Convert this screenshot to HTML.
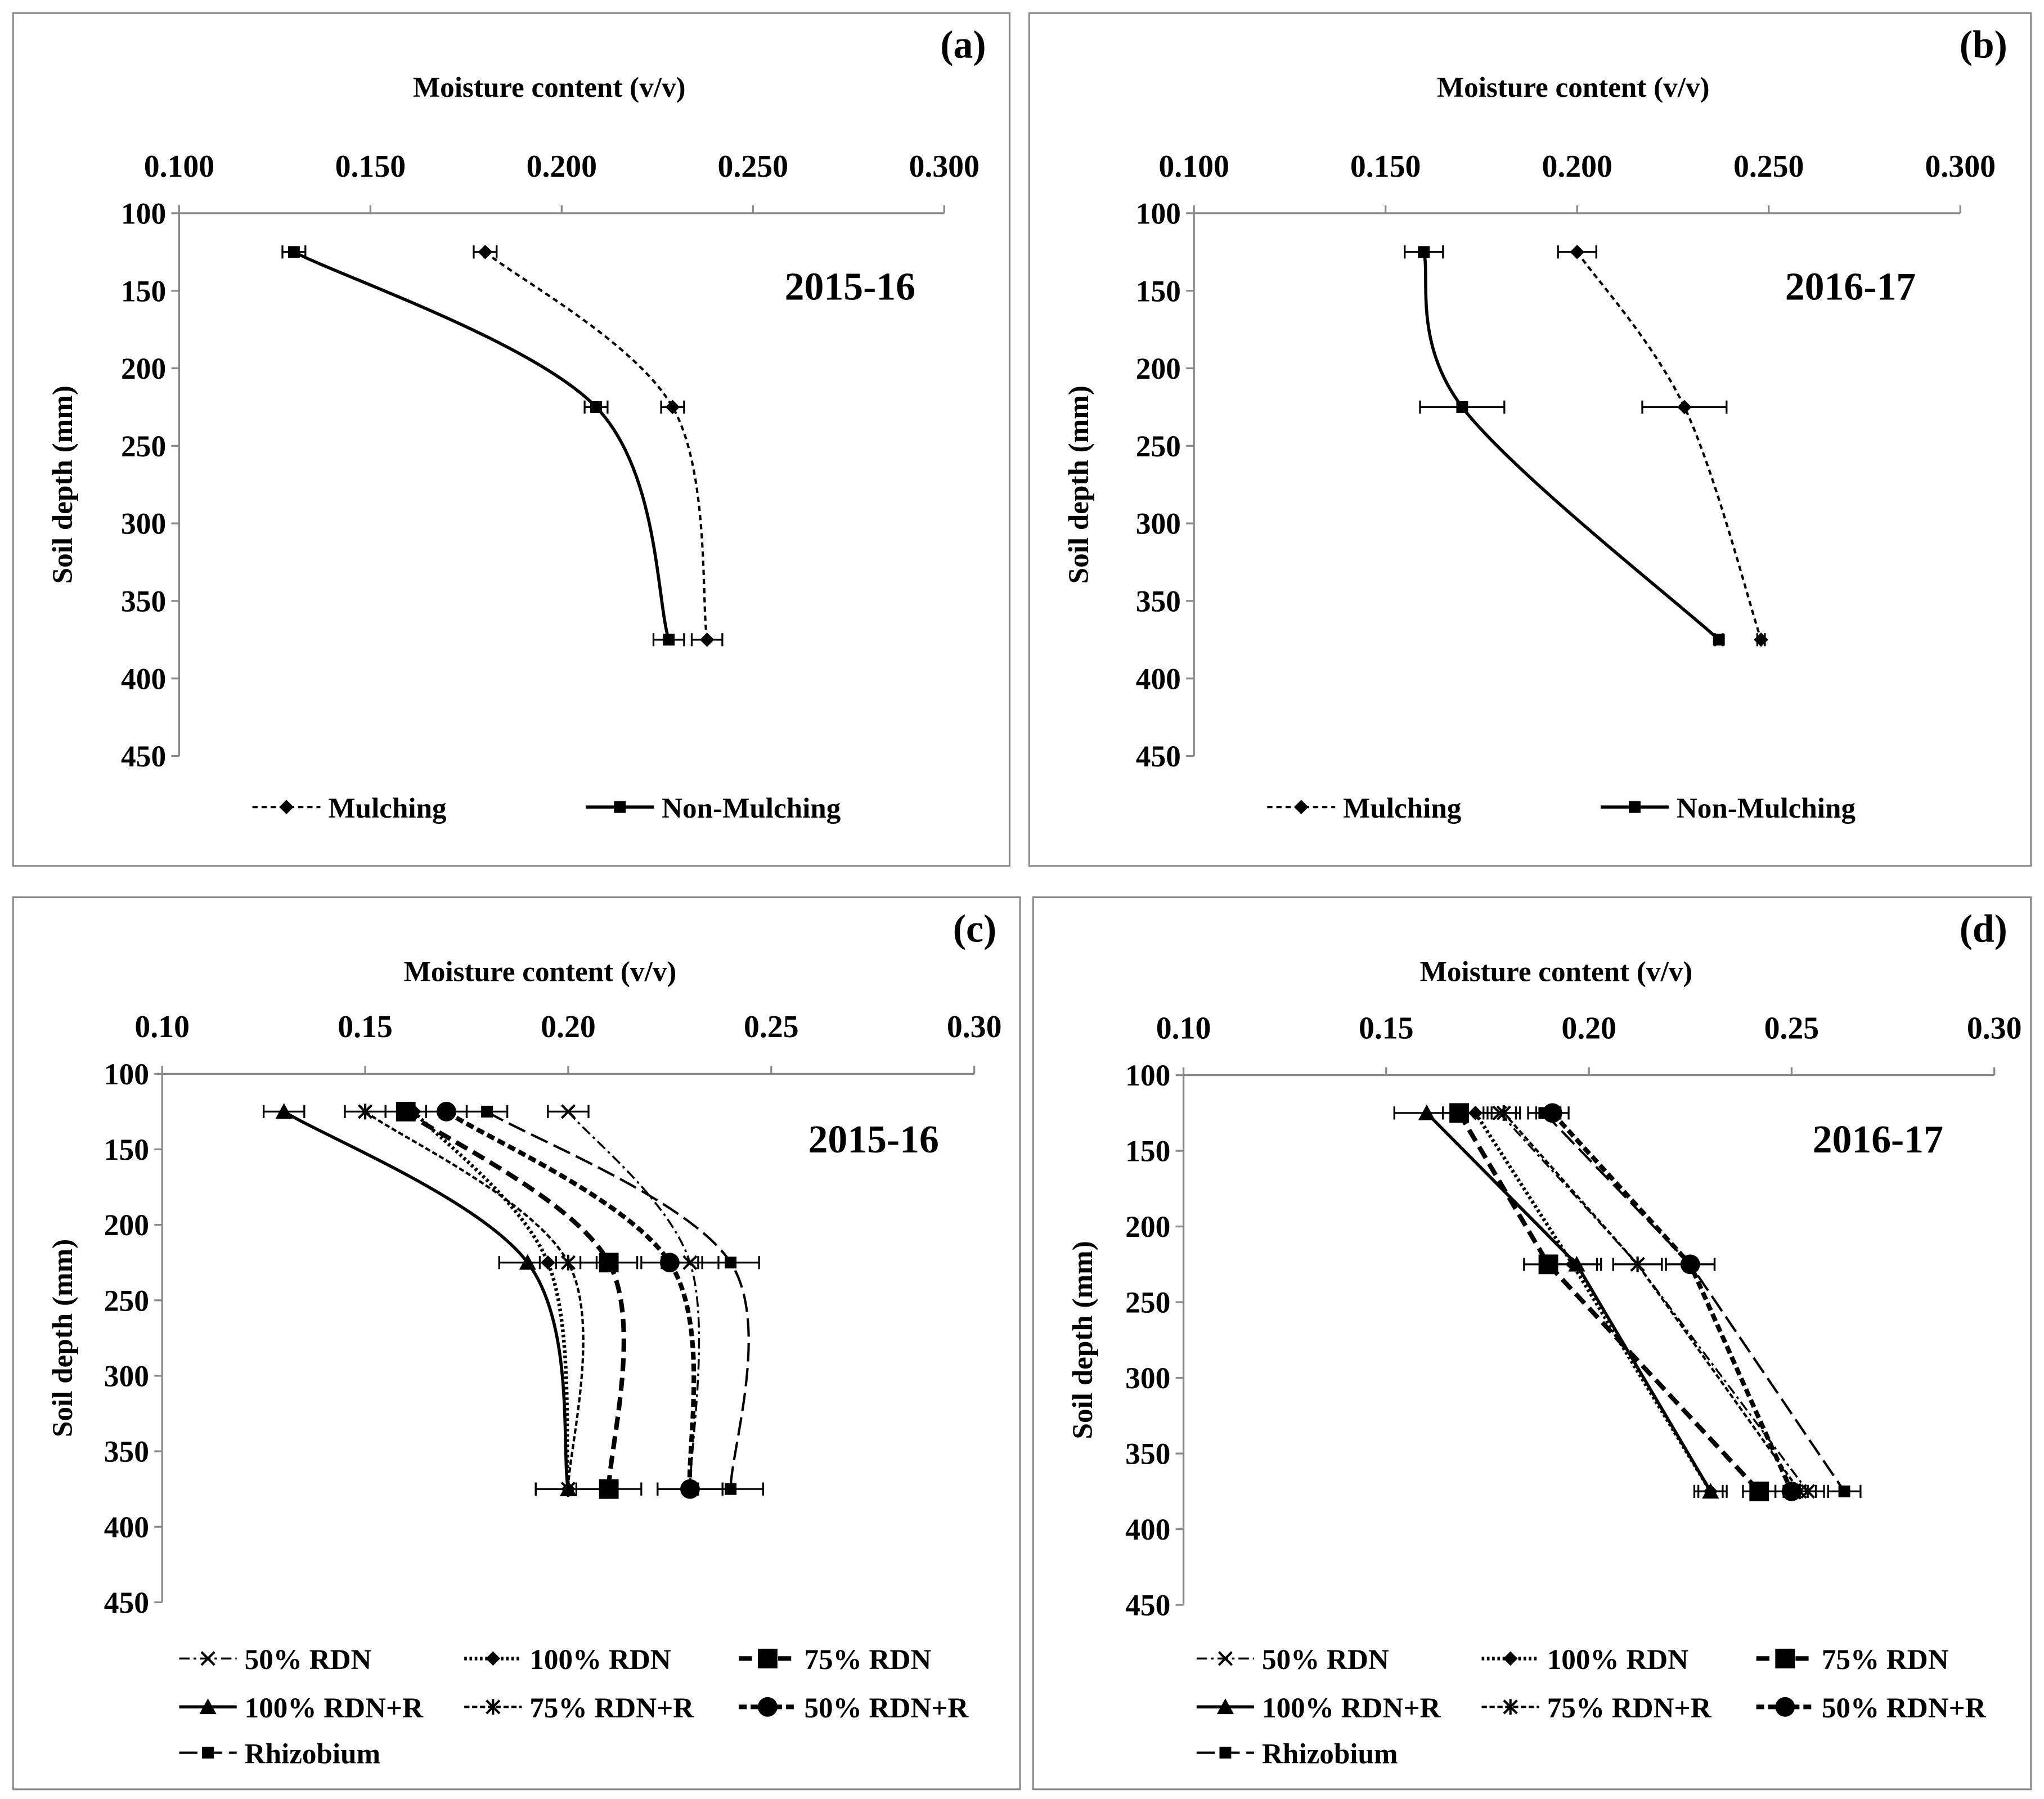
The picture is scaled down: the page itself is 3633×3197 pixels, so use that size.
<!DOCTYPE html>
<html><head><meta charset="utf-8"><style>
html,body{margin:0;padding:0;background:#fff;}
svg{display:block;font-family:"Liberation Serif",serif;font-weight:bold;}
</style></head><body>
<svg id="fig" width="3633" height="3197" viewBox="0 0 1563 1375.4" xmlns="http://www.w3.org/2000/svg"></svg>
<script>
// ---- data ----
const depths = [125, 225, 375];
const yTicks = [100, 150, 200, 250, 300, 350, 400, 450];
const xTicks3 = ["0.100","0.150","0.200","0.250","0.300"];
const xTicks2 = ["0.10","0.15","0.20","0.25","0.30"];
const aMulch = [0.180, 0.229, 0.238];
const aNon = [0.130, 0.209, 0.228];
const aMulchErr = [0.003, 0.003, 0.004];
const aNonErr = [0.003, 0.003, 0.004];
const bMulch = [0.200, 0.228, 0.248];
const bNon = [0.160, 0.170, 0.237];
const bMulchErr = [0.005, 0.011, 0.001];
const bNonErr = [0.005, 0.011, 0.001];
const c50RDN = [0.200, 0.230, 0.230];
const c100RDN = [0.162, 0.195, 0.200];
const c75RDN = [0.160, 0.210, 0.210];
const c100RDNR = [0.130, 0.190, 0.200];
const c75RDNR = [0.150, 0.200, 0.200];
const c50RDNR = [0.170, 0.225, 0.230];
const cRhizo = [0.180, 0.240, 0.240];
const cErr = [0.005, 0.007, 0.008];
const d50RDN = [0.178, 0.212, 0.254];
const d100RDN = [0.172, 0.196, 0.230];
const d75RDN = [0.168, 0.190, 0.242];
const d100RDNR = [0.160, 0.197, 0.230];
const d75RDNR = [0.179, 0.212, 0.252];
const d50RDNR = [0.191, 0.225, 0.250];
const dRhizo = [0.189, 0.225, 0.263];
const dErr = [0.004, 0.006, 0.004];

const NS = "http://www.w3.org/2000/svg";
const svg = document.getElementById("fig");
function el(tag, attrs, parent) {
  const e = document.createElementNS(NS, tag);
  for (const k in attrs) e.setAttribute(k, attrs[k]);
  (parent || svg).appendChild(e);
  return e;
}
function txt(s, x, y, size, anchor, parent) {
  const t = el("text", {x: x, y: y, "font-size": size, "text-anchor": anchor || "start", fill: "#000"}, parent);
  t.textContent = s;
  return t;
}
function marker(type, x, y, g) {
  let m;
  if (type === "diamond") m = el("path", {d: `M${x} ${y-5.5}L${x+5.5} ${y}L${x} ${y+5.5}L${x-5.5} ${y}Z`, fill: "#000"}, g);
  else if (type === "sq") m = el("rect", {x: x-4.5, y: y-4.5, width: 9, height: 9, fill: "#000"}, g);
  else if (type === "bigsq") m = el("rect", {x: x-7.5, y: y-7.5, width: 15, height: 15, fill: "#000"}, g);
  else if (type === "tri") m = el("path", {d: `M${x} ${y-6.5}L${x+6.5} ${y+5.5}L${x-6.5} ${y+5.5}Z`, fill: "#000"}, g);
  else if (type === "circle") m = el("circle", {cx: x, cy: y, r: 7.5, fill: "#000"}, g);
  else if (type === "x") m = el("path", {d: `M${x-5} ${y-5}L${x+5} ${y+5}M${x+5} ${y-5}L${x-5} ${y+5}`, stroke: "#000", "stroke-width": 1.8}, g);
  else if (type === "star") m = el("path", {d: `M${x-5} ${y-5}L${x+5} ${y+5}M${x+5} ${y-5}L${x-5} ${y+5}M${x} ${y-6}L${x} ${y+6}`, stroke: "#000", "stroke-width": 1.8}, g);
  
  
  return m;
}
function smoothPath(pts) {
  let d = `M${pts[0][0]} ${pts[0][1]}`;
  for (let i = 0; i < pts.length - 1; i++) {
    const p0 = pts[Math.max(0, i-1)], p1 = pts[i], p2 = pts[i+1], p3 = pts[Math.min(pts.length-1, i+2)];
    const c1 = [p1[0] + (p2[0]-p0[0])/6, p1[1] + (p2[1]-p0[1])/6];
    const c2 = [p2[0] - (p3[0]-p1[0])/6, p2[1] - (p3[1]-p1[1])/6];
    d += `C${c1[0]} ${c1[1]} ${c2[0]} ${c2[1]} ${p2[0]} ${p2[1]}`;
  }
  return d;
}
function panel(cfg) {
  const g = el("g", {});
  
  
  const box = el("rect", {x: cfg.box[0], y: cfg.box[1], width: cfg.box[2], height: cfg.box[3], fill: "none", stroke: "#888", "stroke-width": 1.3}, g);
  
  
  const X = v => cfg.x0 + (v - 0.1) / 0.2 * (cfg.x1 - cfg.x0);
  const Y = v => cfg.y0 + (v - 100) / 350 * (cfg.y1 - cfg.y0);
  const ax = el("path", {d: `M${cfg.x0} ${cfg.y0}H${cfg.x1}M${cfg.x0} ${cfg.y0}V${cfg.y1}`, stroke: "#888", "stroke-width": 1.4, fill: "none"}, g);
  
  
  cfg.xt.forEach((s, i) => {
    const xv = X(0.1 + i * 0.05);
    el("line", {x1: xv, x2: xv, y1: cfg.y0 - 6, y2: cfg.y0, stroke: "#888", "stroke-width": 1.4}, g);
    const t = txt(s, xv, cfg.y0 - 28, 24, "middle", g);
    
    
  });
  yTicks.forEach(v => {
    el("line", {x1: cfg.x0 - 6, x2: cfg.x0, y1: Y(v), y2: Y(v), stroke: "#888", "stroke-width": 1.4}, g);
    const t = txt(String(v), cfg.x0 - 10, Y(v) + 8, 23, "end", g);
    
    
  });
  const xt = txt("Moisture content (v/v)", cfg.titleX, cfg.box[1] + 64, 22, "middle", g);
  
  
  const yt = txt("Soil depth (mm)", 0, 0, 22, "middle", g);
  yt.setAttribute("transform", `translate(${cfg.box[0] + 45},${(cfg.y0 + cfg.y1) / 2}) rotate(-90)`);
  
  
  const lt = txt(`(${cfg.letter})`, cfg.box[0] + cfg.box[2] - 18, cfg.box[1] + 34, 30, "end", g);
  
  
  const yr = txt(cfg.year, cfg.yearX, cfg.yearY, 30, "middle", g);
  
  
  cfg.series.forEach(s => {
    const sg = el("g", {}, g);
    
    
    const pts = s.vals.map((v, i) => [X(v), Y(depths[i])]);
    const d = cfg.smooth ? smoothPath(pts) : "M" + pts.map(p => p.join(" ")).join("L");
    const ln = el("path", {d: d, fill: "none", stroke: "#000", "stroke-width": s.w, "stroke-dasharray": s.dash}, sg);
    
    
    s.vals.forEach((v, i) => {
      const e = s.err[i], y = Y(depths[i]);
      if (e > 0) {
        const eb = el("path", {d: `M${X(v-e)} ${y}H${X(v+e)}M${X(v-e)} ${y-5}V${y+5}M${X(v+e)} ${y-5}V${y+5}`, stroke: "#000", "stroke-width": 1.4, fill: "none"}, sg);
        
        
      }
      marker(s.m, X(v), y, sg);
    });
  });
  cfg.series.forEach((s, i) => {
    const lx = cfg.leg[i][0], ly = cfg.leg[i][1];
    const lg = el("g", {}, g);
    
    
    el("line", {x1: lx, x2: lx + cfg.legLen, y1: ly, y2: ly, stroke: "#000", "stroke-width": s.w, "stroke-dasharray": s.dash}, lg);
    marker(s.m, lx + cfg.legLen / 2, ly, lg);
    txt(s.name, lx + cfg.legLen + 6, ly + 8, 22, "start", lg);
  });
}
panel({letter: "a", box: [10, 10, 762, 652], x0: 137, x1: 722, y0: 163, y1: 578, xt: xTicks3, titleX: 420, year: "2015-16", yearX: 650, yearY: 229, smooth: true, legLen: 52,
  series: [
    {name: "Mulching", vals: aMulch, err: aMulchErr, m: "diamond", w: 1.8, dash: "4 3"},
    {name: "Non-Mulching", vals: aNon, err: aNonErr, m: "sq", w: 2.4, dash: "none"}],
  leg: [[193, 617], [448, 617]]});
panel({letter: "b", box: [787, 10, 766, 652], x0: 913, x1: 1499, y0: 163, y1: 578, xt: xTicks3, titleX: 1203, year: "2016-17", yearX: 1415, yearY: 229, smooth: true, legLen: 52,
  series: [
    {name: "Mulching", vals: bMulch, err: bMulchErr, m: "diamond", w: 1.8, dash: "4 3"},
    {name: "Non-Mulching", vals: bNon, err: bNonErr, m: "sq", w: 2.4, dash: "none"}],
  leg: [[969, 617], [1224, 617]]});
const legC = [[137, 1268], [355, 1268], [565, 1268], [137, 1305], [355, 1305], [565, 1305], [137, 1340]];
panel({letter: "c", box: [10, 686, 770, 682], x0: 124, x1: 745, y0: 821, y1: 1225, xt: xTicks2, titleX: 413, year: "2015-16", yearX: 668, yearY: 881, smooth: true, legLen: 44,
  series: [
    {name: "50% RDN", vals: c50RDN, err: cErr, m: "x", w: 1.5, dash: "8 3 2 3"},
    {name: "100% RDN", vals: c100RDN, err: [0, 0, 0], m: "diamond", w: 2.8, dash: "2 2"},
    {name: "75% RDN", vals: c75RDN, err: cErr, m: "bigsq", w: 3.5, dash: "10 5"},
    {name: "100% RDN+R", vals: c100RDNR, err: cErr, m: "tri", w: 2.4, dash: "none"},
    {name: "75% RDN+R", vals: c75RDNR, err: cErr, m: "star", w: 1.8, dash: "4 2"},
    {name: "50% RDN+R", vals: c50RDNR, err: cErr, m: "circle", w: 3.5, dash: "6 3"},
    {name: "Rhizobium", vals: cRhizo, err: cErr, m: "sq", w: 1.8, dash: "14 5"}],
  leg: legC});
const legD = [[915, 1268], [1133, 1268], [1343, 1268], [915, 1305], [1133, 1305], [1343, 1305], [915, 1340]];
panel({letter: "d", box: [790, 686, 763, 682], x0: 905, x1: 1525, y0: 822, y1: 1227, xt: xTicks2, titleX: 1190, year: "2016-17", yearX: 1436, yearY: 881, smooth: false, legLen: 44,
  series: [
    {name: "50% RDN", vals: d50RDN, err: dErr, m: "x", w: 1.5, dash: "8 3 2 3"},
    {name: "100% RDN", vals: d100RDN, err: dErr, m: "diamond", w: 2.8, dash: "2 2"},
    {name: "75% RDN", vals: d75RDN, err: dErr, m: "bigsq", w: 3.5, dash: "10 5"},
    {name: "100% RDN+R", vals: d100RDNR, err: [0.008, 0.006, 0.003], m: "tri", w: 2.4, dash: "none"},
    {name: "75% RDN+R", vals: d75RDNR, err: dErr, m: "star", w: 1.8, dash: "4 2"},
    {name: "50% RDN+R", vals: d50RDNR, err: dErr, m: "circle", w: 3.5, dash: "6 3"},
    {name: "Rhizobium", vals: dRhizo, err: dErr, m: "sq", w: 1.8, dash: "14 5"}],
  leg: legD});
</script>
</body></html>
